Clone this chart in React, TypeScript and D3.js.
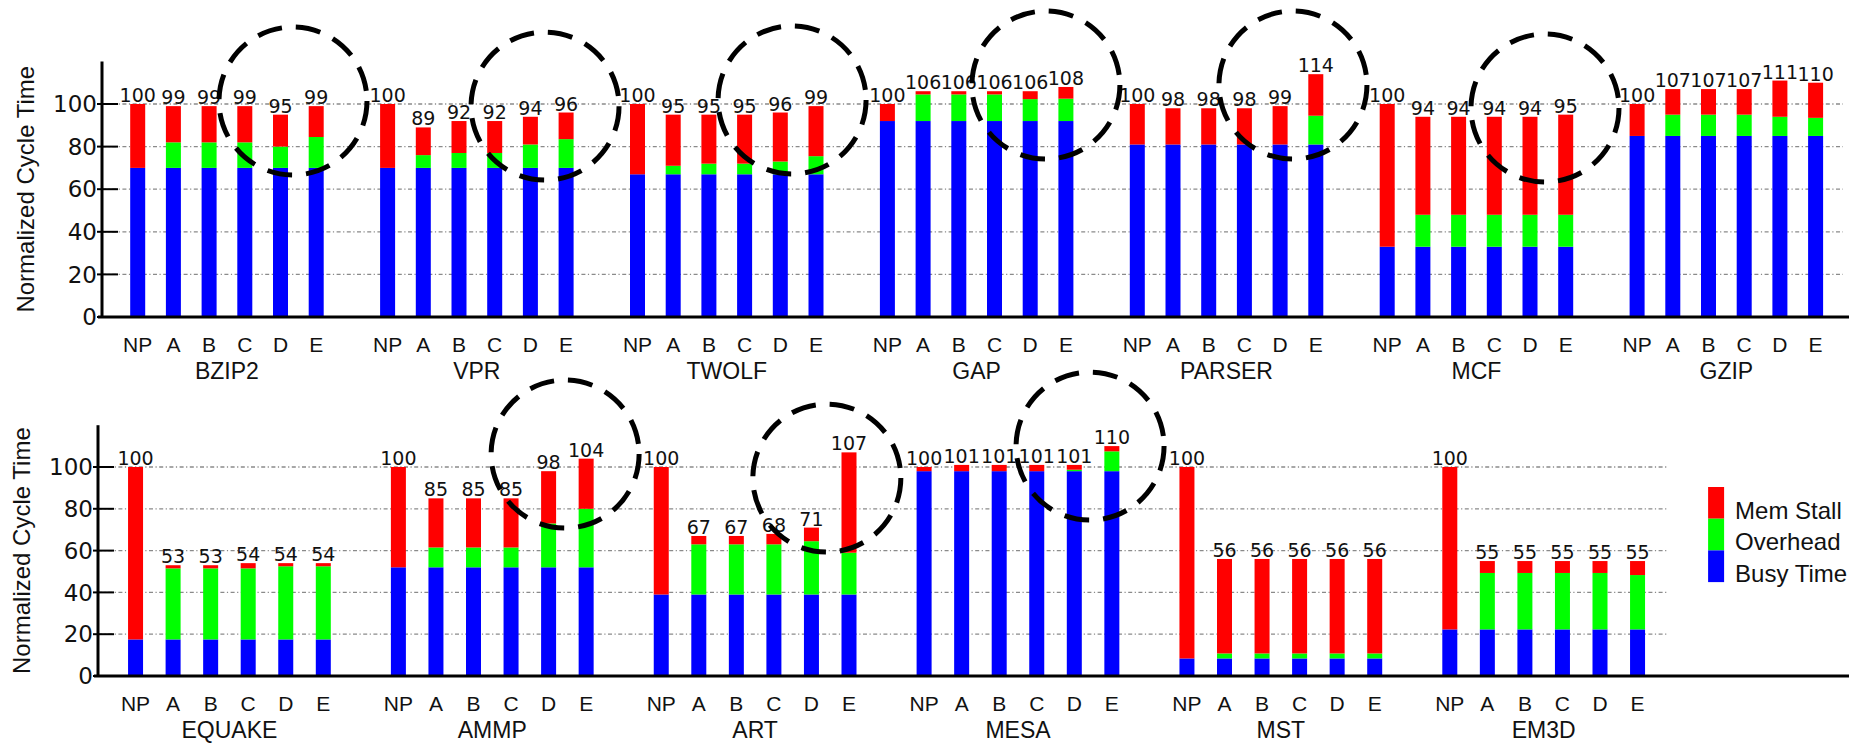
import { useEffect } from "react";
import * as d3 from "d3";

// bar categories inside each benchmark group
const cats = ["NP", "A", "B", "C", "D", "E"];

const topGroups = ["BZIP2", "VPR", "TWOLF", "GAP", "PARSER", "MCF", "GZIP"];
const topBusy = [
  [70, 70, 70, 70, 70, 70],
  [70, 70, 70, 70, 70, 70],
  [67, 67, 67, 67, 67, 67],
  [92, 92, 92, 92, 92, 92],
  [81, 81, 81, 81, 81, 81],
  [33, 33, 33, 33, 33, 33],
  [85, 85, 85, 85, 85, 85],
];
const topOverhead = [
  [0, 12, 12, 12, 10, 14.5],
  [0, 6, 7, 7, 11, 13.5],
  [0, 4, 5, 5, 6, 8.5],
  [0, 12.5, 12.5, 12.5, 10.3, 10.5],
  [0, 0, 0, 0, 0, 13.5],
  [0, 15, 15, 15, 15, 15],
  [0, 10, 10, 10, 9, 8.5],
];
const topStall = [
  [30, 17, 17, 17, 15, 14.5],
  [30, 13, 15, 15, 13, 12.5],
  [33, 24, 23, 23, 23, 23.5],
  [8, 1.5, 1.5, 1.5, 3.7, 5.5],
  [19, 17, 17, 17, 18, 19.5],
  [67, 46, 46, 46, 46, 47],
  [15, 12, 12, 12, 17, 16.5],
];

const bottomGroups = ["EQUAKE", "AMMP", "ART", "MESA", "MST", "EM3D"];
const bottomBusy = [
  [17.5, 17.5, 17.5, 17.5, 17.5, 17.5],
  [52, 52, 52, 52, 52, 52],
  [39, 39, 39, 39, 39, 39],
  [98, 98, 98, 98, 98, 98],
  [8.4, 8.4, 8.4, 8.4, 8.4, 8.4],
  [22.3, 22.3, 22.3, 22.3, 22.3, 22.3],
];
const bottomOverhead = [
  [0, 34, 34, 34, 35, 35],
  [0, 9.5, 9.5, 9.5, 21, 28],
  [0, 24, 24, 24, 25.5, 20],
  [0, 0, 0, 0, 0.7, 9.5],
  [0, 2.4, 2.4, 2.4, 2.4, 2.4],
  [0, 27, 27, 27, 27, 26],
];
const bottomStall = [
  [82.5, 1.5, 1.5, 2.5, 1.5, 1.5],
  [48, 23.5, 23.5, 23.5, 25, 24],
  [61, 4, 4, 5, 6.5, 48],
  [2, 3, 3, 3, 2.3, 2.5],
  [91.6, 45.2, 45.2, 45.2, 45.2, 45.2],
  [77.7, 5.7, 5.7, 5.7, 5.7, 6.7],
];

// dashed highlight circles: group index, slot position inside group, value at centre
const topCircleGroup = [0, 1, 2, 3, 4, 5];
const topCircleSlot = [5.35, 5.41, 5.33, 5.44, 5.36, 5.42];
const topCircleValue = [101.4, 99, 101.9, 108.9, 108.9, 98.1];
const bottomCircleGroup = [1, 2, 3];
const bottomCircleSlot = [5.44, 5.41, 5.42];
const bottomCircleValue = [106.2, 94.7, 110];

const yTicks = [0, 20, 40, 60, 80, 100];
const legendNames = ["Mem Stall", "Overhead", "Busy Time"];
const legendColors = ["#ff0000", "#00ff00", "#0000ff"];

const sans = "'Liberation Sans', Arial, sans-serif";
const digits = "'DejaVu Sans', sans-serif";

type PanelProps = {
  groups: string[];
  busy: number[][];
  over: number[][];
  stall: number[][];
  axisX: number;
  baseY: number;
  ppu: number;
  plotW: number;
  lineEnd: number;
  gridEnd: number;
  circGroup: number[];
  circSlot: number[];
  circValue: number[];
  legend?: boolean;
};

const Panel = (p: PanelProps) => {
  const y = d3.scaleLinear().domain([0, 120]).range([p.baseY, p.baseY - 120 * p.ppu]);
  const xg = d3.scaleBand().domain(p.groups).range([p.axisX, p.axisX + p.plotW]);
  const slot = xg.bandwidth() / 7;
  const xi = d3.scaleBand().domain(cats).range([slot / 2, xg.bandwidth() - slot / 2]);
  const barW = 15;

  return (
    <g>
      {yTicks.slice(1).map((t) => (
        <line key={"g" + t} x1={p.axisX} x2={p.gridEnd} y1={y(t)} y2={y(t)}
          stroke="#8a8a8a" strokeWidth={1.3} strokeDasharray="4 2.5 1.2 2.5" />
      ))}

      {p.groups.map((g, gi) => (
        <g key={g}>
          {cats.map((c, ci) => {
            const b = p.busy[gi][ci], o = p.over[gi][ci], s = p.stall[gi][ci];
            const cx = xg(g)! + xi(c)! + xi.bandwidth() / 2;
            const x = cx - barW / 2;
            const total = b + o + s;
            return (
              <g key={c}>
                <rect x={x} width={barW} y={y(b)} height={y(0) - y(b)} fill="#0000ff" />
                {o > 0 && <rect x={x} width={barW} y={y(b + o)} height={y(b) - y(b + o)} fill="#00ff00" />}
                <rect x={x} width={barW} y={y(total)} height={y(b + o) - y(total)} fill="#ff0000" />
                <text x={cx} y={y(total) - 2} textAnchor="middle" fontFamily={digits} fontSize={19} fill="#111">
                  {Math.round(total)}
                </text>
                <text x={cx} y={p.baseY + 35} textAnchor="middle" fontFamily={sans} fontSize={21} fill="#111">
                  {c}
                </text>
              </g>
            );
          })}
          <text x={xg(g)! + xg.bandwidth() / 2} y={p.baseY + 62} textAnchor="middle" fontFamily={sans} fontSize={23} fill="#111">
            {g}
          </text>
        </g>
      ))}

      {/* axes */}
      <line x1={p.axisX} x2={p.axisX} y1={y(120)} y2={p.baseY + 1} stroke="#000" strokeWidth={3} />
      <line x1={p.axisX - 4} x2={p.lineEnd} y1={p.baseY} y2={p.baseY} stroke="#000" strokeWidth={3} />
      {yTicks.map((t) => (
        <g key={"t" + t}>
          <line x1={p.axisX - 5} x2={p.axisX + 16} y1={y(t)} y2={y(t)} stroke="#000" strokeWidth={2} />
          <text x={p.axisX - 5} y={y(t)} dy="0.36em" textAnchor="end" fontFamily={digits} fontSize={23} fill="#111">
            {t}
          </text>
        </g>
      ))}
      <text transform={`translate(${p.axisX - 77},${(y(120) + p.baseY) / 2}) rotate(-90)`} textAnchor="middle"
        dy="0.36em" fontFamily={sans} fontSize={24} fill="#111">
        Normalized Cycle Time
      </text>

      {p.circGroup.map((gi, k) => (
        <circle key={"c" + k} cx={xg(p.groups[gi])! + p.circSlot[k] * slot} cy={y(p.circValue[k])} r={74}
          fill="none" stroke="#000" strokeWidth={5} strokeDasharray="25 14" />
      ))}

      {p.legend && legendNames.map((n, i) => (
        <g key={n}>
          <rect x={p.axisX + p.plotW + 33} y={487 + i * 31.7} width={16} height={31.7} fill={legendColors[i]} />
          <text x={p.axisX + p.plotW + 60} y={487 + (i + 1) * 31.7} fontFamily={sans} fontSize={24} fill="#111">
            {n}
          </text>
        </g>
      ))}
    </g>
  );
};

export default function App() {
  useEffect(() => {
    document.body.style.margin = "0";
  }, []);
  return (
    <svg width={1858} height={743} style={{ display: "block", background: "#fff" }}>
      <Panel groups={topGroups} busy={topBusy} over={topOverhead} stall={topStall}
        axisX={102} baseY={317} ppu={2.13} plotW={49 * 35.7} lineEnd={1849} gridEnd={1843}
        circGroup={topCircleGroup} circSlot={topCircleSlot} circValue={topCircleValue} />
      <Panel groups={bottomGroups} busy={bottomBusy} over={bottomOverhead} stall={bottomStall}
        axisX={98} baseY={676} ppu={2.09} plotW={42 * 37.55} lineEnd={1849} gridEnd={1667}
        circGroup={bottomCircleGroup} circSlot={bottomCircleSlot} circValue={bottomCircleValue} legend />
    </svg>
  );
}
